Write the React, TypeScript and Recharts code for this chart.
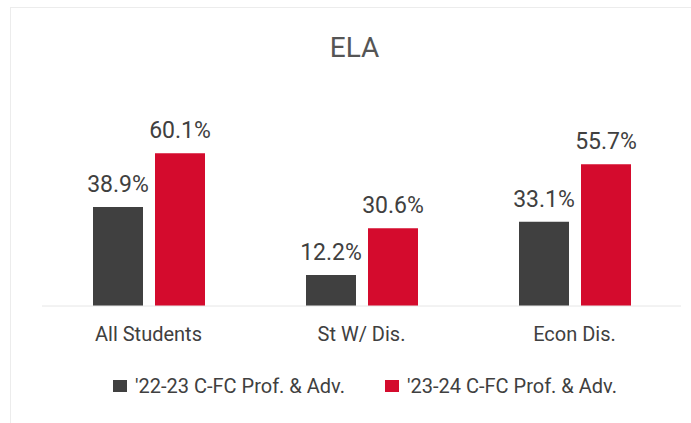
import React from "react";
import { BarChart, Bar, XAxis, YAxis, Legend, LabelList } from "recharts";

const categories = ["All Students", "St W/ Dis.", "Econ Dis."];
const series2223 = [38.9, 12.2, 33.1];
const series2324 = [60.1, 30.6, 55.7];
const seriesNames = ["'22-23 C-FC Prof. & Adv.", "'23-24 C-FC Prof. & Adv."];
const seriesColors = ["#404040", "#d40b2d"];

const data = categories.map((c, i) => ({
  name: c,
  a: series2223[i],
  b: series2324[i],
}));

const FONT = "Roboto, 'Noto Sans', sans-serif";

const LegendContent = () => (
  <div
    style={{
      display: "flex",
      justifyContent: "center",
      alignItems: "center",
      fontFamily: FONT,
      fontSize: 20,
      color: "#404040",
      paddingLeft: 7,
      paddingTop: 28,
    }}
  >
    {seriesNames.map((n, i) => (
      <div key={n} style={{ display: "flex", alignItems: "center", marginRight: i === 0 ? 40 : 0 }}>
        <span
          style={{
            display: "inline-block",
            width: 14,
            height: 12,
            background: seriesColors[i],
            marginRight: 8,
          }}
        />
        <span>{n}</span>
      </div>
    ))}
  </div>
);

export default function App() {
  return (
    <div
      style={{
        position: "absolute",
        left: 0,
        top: 0,
        width: 691,
        height: 423,
        background: "#fff",
        overflow: "hidden",
      }}
    >
      <div
        style={{
          position: "absolute",
          left: 10,
          top: 7,
          width: 700,
          height: 430,
          border: "1px solid #ececec",
          boxSizing: "border-box",
        }}
      />
      <div
        style={{
          position: "absolute",
          left: 0,
          width: 709,
          top: 31,
          textAlign: "center",
          fontFamily: FONT,
          fontSize: 28,
          color: "#555",
        }}
      >
        ELA
      </div>
      <BarChart
        width={691}
        height={423}
        data={data}
        margin={{ top: 128, right: 10, left: 42, bottom: 27 }}
        barCategoryGap={50}
        barGap={12}
        style={{ position: "absolute", left: 0, top: 0 }}
      >
        <XAxis
          dataKey="name"
          height={40}
          axisLine={{ stroke: "#e6e6e6" }}
          tickLine={false}
          tickMargin={15}
          tick={{ fill: "#404040", fontSize: 20, fontFamily: FONT }}
        />
        <YAxis hide domain={[0, 70]} />
        <Legend verticalAlign="bottom" height={50} content={LegendContent} />
        <Bar dataKey="a" fill={seriesColors[0]} barSize={50} isAnimationActive={false}>
          <LabelList
            dataKey="a"
            position="top"
            offset={15}
            formatter={(v: number) => v.toFixed(1) + "%"}
            style={{ fill: "#404040", fontSize: 23, fontFamily: FONT }}
          />
        </Bar>
        <Bar dataKey="b" fill={seriesColors[1]} barSize={50} isAnimationActive={false}>
          <LabelList
            dataKey="b"
            position="top"
            offset={15}
            formatter={(v: number) => v.toFixed(1) + "%"}
            style={{ fill: "#404040", fontSize: 23, fontFamily: FONT }}
          />
        </Bar>
      </BarChart>
    </div>
  );
}
